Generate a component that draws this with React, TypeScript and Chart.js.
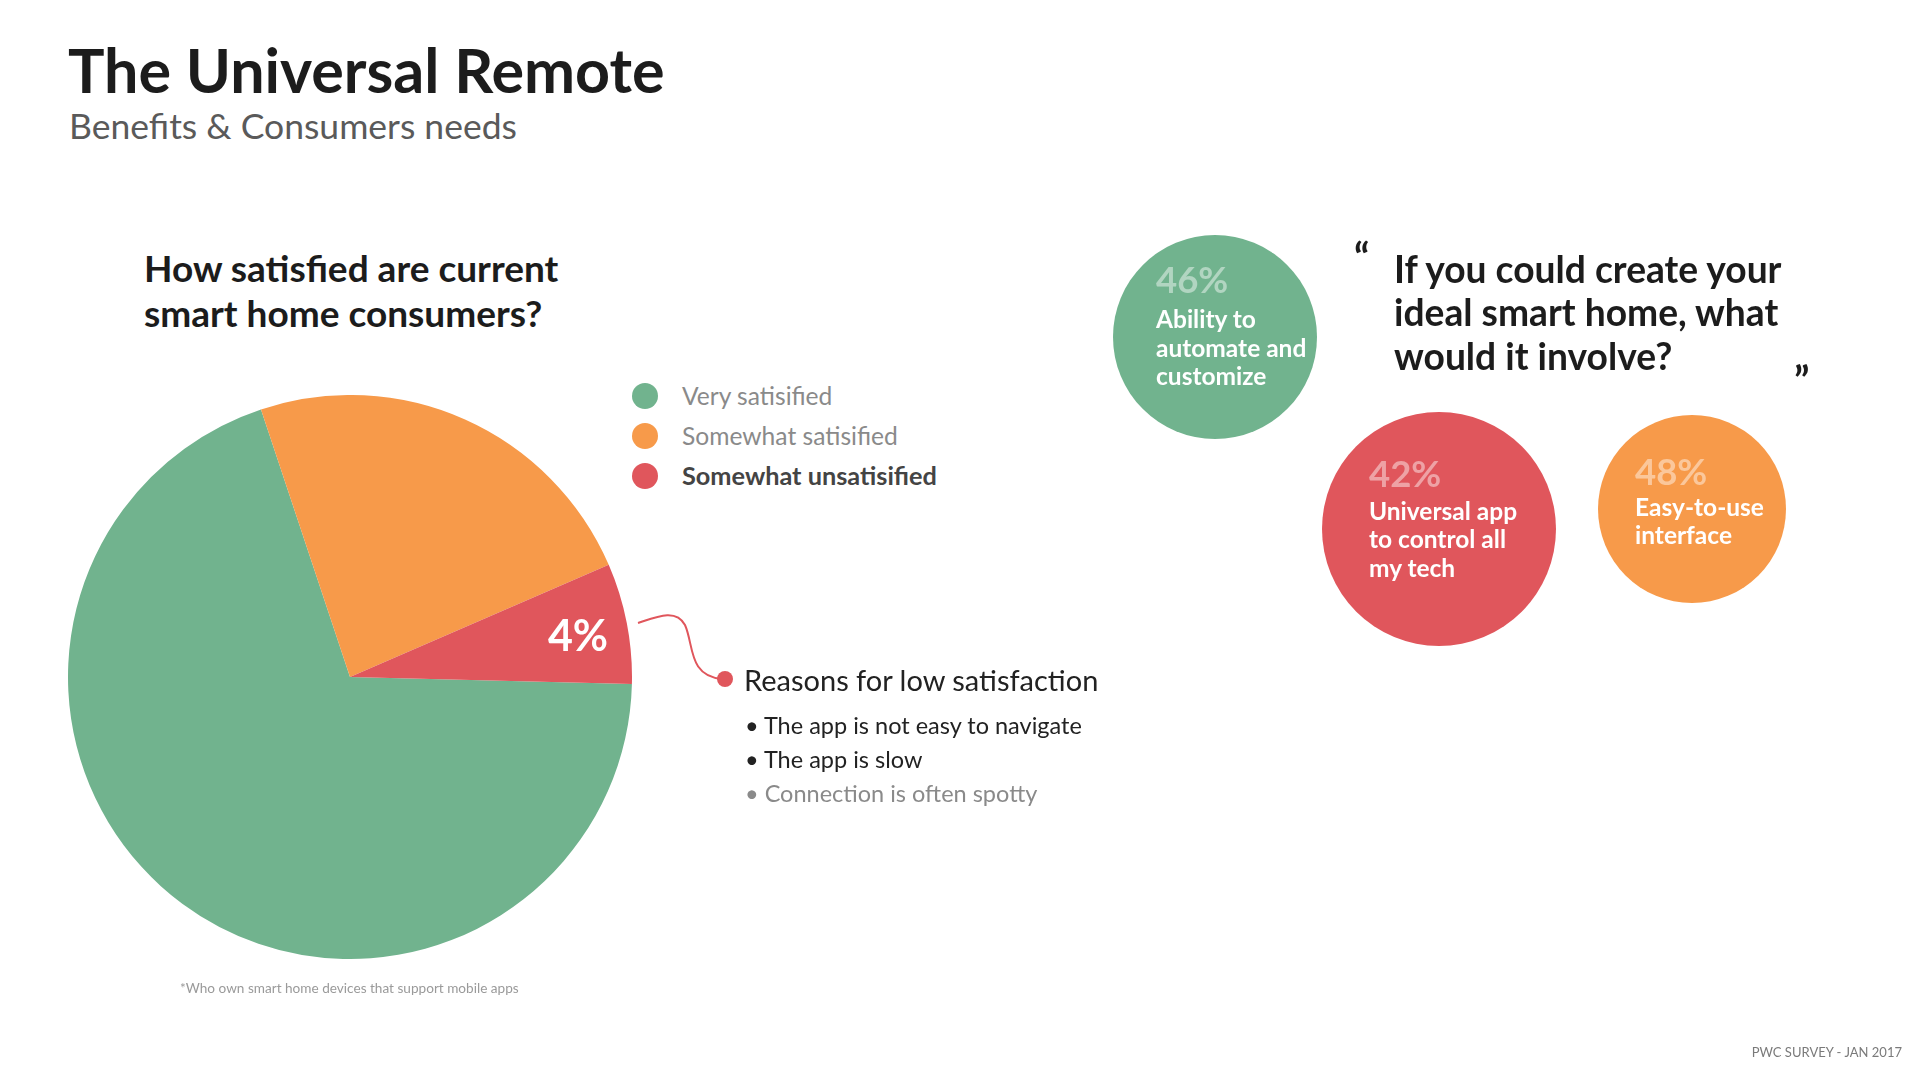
import React, { useEffect, useRef } from "react";
import { Chart, registerables } from "chart.js";

Chart.register(...registerables);

const categories = ["Very satisified", "Somewhat satisified", "Somewhat unsatisified"];
const satisfactionValues = [69.5, 23.6, 6.9];
const sliceLabels = ["", "", "4%"];
const sliceColors = ["#71B38E", "#F79A4A", "#E0565C"];

const reasons = ["The app is not easy to navigate", "The app is slow", "Connection is often spotty"];

const needPercents = ["46%", "42%", "48%"];
const needLabels = [
  ["Ability to", "automate and", "customize"],
  ["Universal app", "to control all", "my tech"],
  ["Easy-to-use", "interface"],
];
const needColors = ["#71B38E", "#E0565C", "#F79A4A"];

const FONT = "Lato, 'Open Sans', sans-serif";

const sliceLabelPlugin = {
  id: "sliceLabel",
  afterDatasetsDraw(chart: any) {
    const ctx = chart.ctx;
    const meta = chart.getDatasetMeta(0);
    meta.data.forEach((arc: any, i: number) => {
      const text = sliceLabels[i];
      if (!text) return;
      const p = arc.getProps(["x", "y", "startAngle", "endAngle", "outerRadius"], true);
      const mid = (p.startAngle + p.endAngle) / 2;
      const d = p.outerRadius * 0.82;
      ctx.save();
      ctx.fillStyle = "#ffffff";
      ctx.font = `bold 43px ${FONT}`;
      ctx.textAlign = "center";
      ctx.textBaseline = "middle";
      ctx.fillText(text, p.x + Math.cos(mid) * d + 1, p.y + Math.sin(mid) * d + 4);
      ctx.restore();
    });
  },
};

function PieChart() {
  const ref = useRef<HTMLCanvasElement | null>(null);
  useEffect(() => {
    if (!ref.current) return;
    const chart = new Chart(ref.current, {
      type: "pie",
      data: {
        labels: categories,
        datasets: [
          {
            data: satisfactionValues,
            backgroundColor: sliceColors,
            borderWidth: 0,
            hoverOffset: 0,
          },
        ],
      },
      options: {
        animation: false,
        responsive: false,
        rotation: 91.4,
        layout: { padding: 0 },
        plugins: { legend: { display: false }, tooltip: { enabled: false } },
      },
      plugins: [sliceLabelPlugin],
    });
    return () => chart.destroy();
  }, []);
  return (
    <canvas
      ref={ref}
      width={564}
      height={564}
      style={{ position: "absolute", left: 68, top: 395, width: 564, height: 564 }}
    />
  );
}

const abs = (left: number, top: number, extra: React.CSSProperties = {}): React.CSSProperties => ({
  position: "absolute",
  left,
  top,
  whiteSpace: "nowrap",
  ...extra,
});

export default function App() {
  useEffect(() => {
    document.body.style.margin = "0";
  }, []);

  const bubbles = [
    { cx: 1215, cy: 337, r: 102, tx: 1156, py: 279, ly: [319, 348, 376] },
    { cx: 1439, cy: 529, r: 117, tx: 1369, py: 473, ly: [511, 539, 568] },
    { cx: 1692, cy: 509, r: 94, tx: 1635, py: 471, ly: [507, 535] },
  ];

  return (
    <div
      style={{
        position: "relative",
        width: 1920,
        height: 1080,
        background: "#ffffff",
        fontFamily: FONT,
        overflow: "hidden",
      }}
    >
      <div style={abs(68, 39, { fontSize: 61, lineHeight: "61px", fontWeight: 700, color: "#1c1c1c" })}>
        The Universal Remote
      </div>
      <div style={abs(69, 108, { fontSize: 35.5, lineHeight: "36px", color: "#5a5a5a" })}>
        Benefits &amp; Consumers needs
      </div>

      <div style={abs(144, 246, { fontSize: 37, lineHeight: "44.5px", fontWeight: 700, color: "#1c1c1c" })}>
        How satisfied are current
        <br />
        smart home consumers?
      </div>

      <PieChart />

      {categories.map((c, i) => (
        <React.Fragment key={c}>
          <div
            style={{
              position: "absolute",
              left: 645 - 13,
              top: 396 + i * 40 - 13,
              width: 26,
              height: 26,
              borderRadius: "50%",
              background: sliceColors[i],
            }}
          />
          <div
            style={abs(682, 396 + i * 40 - 15, {
              fontSize: i === 2 ? 25.3 : 24.6,
              lineHeight: "29px",
              color: i === 2 ? "#444444" : "#8a8a8a",
              fontWeight: i === 2 ? 700 : 400,
            })}
          >
            {c}
          </div>
        </React.Fragment>
      ))}

      <svg
        width={1920}
        height={1080}
        style={{ position: "absolute", left: 0, top: 0, pointerEvents: "none" }}
      >
        <path
          d="M638 623 C656 617 676 608 685 625 C694 645 688 676 722 679"
          fill="none"
          stroke="#E0565C"
          strokeWidth={2}
        />
        <circle cx={725} cy={679} r={8} fill="#E0565C" />
      </svg>

      <div style={abs(744, 663, { fontSize: 29, lineHeight: "34px", color: "#222222" })}>
        Reasons for low satisfaction
      </div>
      {reasons.map((r, i) => (
        <div
          key={r}
          style={abs(745, 725 + i * 34 - 14, {
            fontSize: 23.5,
            lineHeight: "28px",
            color: i === 2 ? "#8a8a8a" : "#222222",
          })}
        >
          {"\u2022 " + r}
        </div>
      ))}

      <div style={abs(180, 980, { fontSize: 13.6, lineHeight: "16px", color: "#9a9a9a" })}>
        *Who own smart home devices that support mobile apps
      </div>

      {bubbles.map((b, i) => (
        <React.Fragment key={i}>
          <div
            style={{
              position: "absolute",
              left: b.cx - b.r,
              top: b.cy - b.r,
              width: b.r * 2,
              height: b.r * 2,
              borderRadius: "50%",
              background: needColors[i],
            }}
          />
          <div
            style={abs(b.tx, b.py - 21, {
              fontSize: 36.5,
              lineHeight: "42px",
              fontWeight: 700,
              color: "rgba(255,255,255,0.45)",
            })}
          >
            {needPercents[i]}
          </div>
          {needLabels[i].map((t, j) => (
            <div
              key={t}
              style={abs(b.tx, b.ly[j] - 15, {
                fontSize: 24.5,
                lineHeight: "29px",
                fontWeight: 700,
                color: "#ffffff",
              })}
            >
              {t}
            </div>
          ))}
        </React.Fragment>
      ))}

      <div style={abs(1354, 237, { fontSize: 40, lineHeight: "40px", fontWeight: 700, color: "#1c1c1c" })}>
        {"\u201C"}
      </div>
      <div style={abs(1394, 246.5, { fontSize: 37.2, lineHeight: "43.5px", fontWeight: 700, color: "#1c1c1c" })}>
        If you could create your
        <br />
        ideal smart home, what
        <br />
        would it involve?
      </div>
      <div style={abs(1794, 360, { fontSize: 40, lineHeight: "40px", fontWeight: 700, color: "#1c1c1c" })}>
        {"\u201D"}
      </div>

      <div
        style={{
          position: "absolute",
          right: 18,
          top: 1044,
          fontSize: 13,
          lineHeight: "16px",
          color: "#7a7a7a",
          whiteSpace: "nowrap",
        }}
      >
        PWC SURVEY - JAN 2017
      </div>
    </div>
  );
}
